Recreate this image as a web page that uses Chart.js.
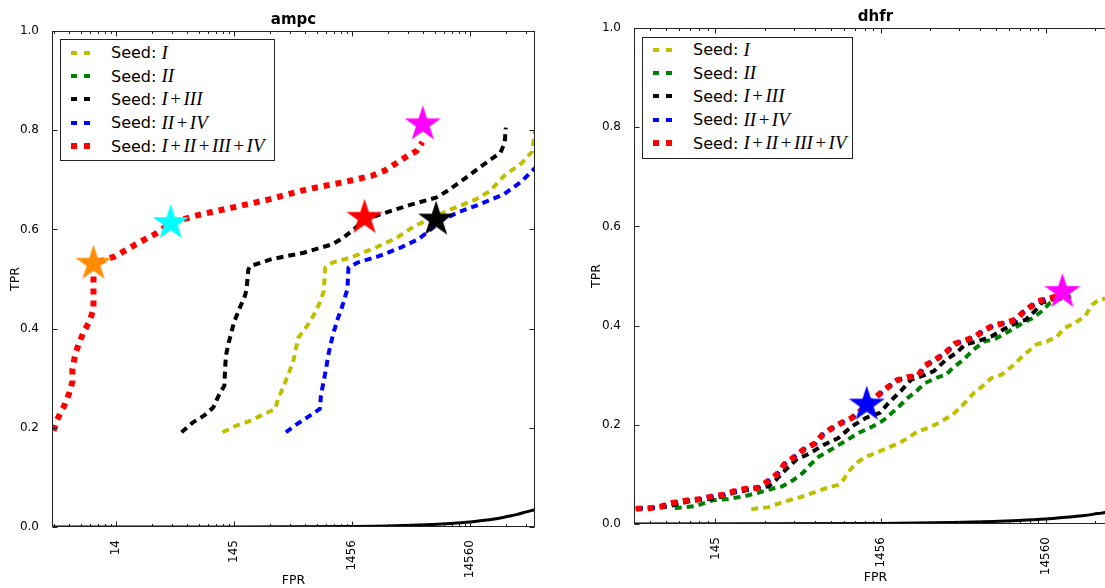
<!DOCTYPE html>
<html>
<head>
<meta charset="utf-8">
<script src="https://cdn.jsdelivr.net/npm/chart.js@4.4.0/dist/chart.umd.min.js"></script>
<style>
  html, body { margin: 0; padding: 0; background: #fff; overflow: hidden; }
  #wrap { position: relative; width: 1105px; height: 588px; overflow: hidden; }
  canvas { position: absolute; top: 0; }
  #ampcChart { left: 0; }
  #dhfrChart { left: 560px; }
  .legend { position: absolute; background: #fff; border: 1px solid #222; box-sizing: border-box;
            font-family: "DejaVu Sans", sans-serif; font-size: 16px; color: #000; }
  #ampcLegend { left: 60px; top: 39px; width: 215px; height: 122px; padding-top: 1px; }
  #dhfrLegend { left: 642px; top: 37px; width: 211px; height: 122px; padding-top: 0; }
  .row { display: flex; align-items: center; height: 23.4px; white-space: nowrap; }
  .sample { width: 40px; margin-left: 10px; display: flex; align-items: center; }
  .dash { display: inline-block; width: 6px; height: 4px; margin-right: 6.7px; }
  .dash.big { height: 6px; }
  .math { font-family: "Liberation Serif", serif; font-style: italic; font-size: 19px; }
  .op { font-style: normal; margin: 0 2.5px; }
</style>
</head>
<body>
<div id="wrap">
  <canvas id="ampcChart" width="560" height="588"></canvas>
  <canvas id="dhfrChart" width="600" height="588"></canvas>
  <div id="ampcLegend" class="legend"></div>
  <div id="dhfrLegend" class="legend"></div>
</div>
<script>
// axis ticks (x is log scaled)
const xTickValues = [14.56, 145.6, 1456, 14560];
const xTickLabels = ["14", "145", "1456", "14560"];
const yTickValues = [0, 0.2, 0.4, 0.6, 0.8, 1.0];
const seedLabels = ["I", "II", "I+III", "II+IV", "I+II+III+IV"];
const seedColors = ["#bfbf00", "#008000", "#000000", "#0000ff", "#ff0000"];

// ---- ampc ----
const ampcIx = [116.4, 150.7, 199, 263.6, 325, 343.6, 378.7, 414.6, 460.6, 486.6, 510.8, 608, 699.5, 777, 833, 850, 862, 991, 1406, 2290, 3482, 4932, 6520, 9910, 16140, 21380, 28250, 40000, 49000, 51700];
const ampcIy = [0.191, 0.204, 0.214, 0.228, 0.238, 0.258, 0.281, 0.305, 0.332, 0.359, 0.382, 0.406, 0.430, 0.453, 0.473, 0.499, 0.523, 0.533, 0.543, 0.563, 0.583, 0.607, 0.620, 0.640, 0.660, 0.677, 0.708, 0.734, 0.757, 0.800];
const ampcIIx = [];
const ampcIIy = [];
const ampcIIIIx = [52.2, 65.3, 80.4, 97.0, 107.8, 120.5, 122.2, 124.0, 131.2, 145.6, 161.6, 180.6, 185.6, 192.3, 199, 302.6, 567, 991, 1222, 1507, 1858, 2824, 4600, 7500, 9250, 12220, 17330, 26360, 28640, 29240];
const ampcIIIIy = [0.191, 0.211, 0.224, 0.241, 0.265, 0.285, 0.318, 0.345, 0.372, 0.413, 0.44, 0.467, 0.479, 0.519, 0.526, 0.540, 0.553, 0.570, 0.583, 0.600, 0.620, 0.634, 0.650, 0.664, 0.677, 0.697, 0.724, 0.755, 0.775, 0.805];
const ampcIIIVx = [400, 493, 608, 777, 793, 833, 875, 913, 958, 1027, 1102, 1206, 1292, 1329, 1358, 1615, 2457, 3731, 5291, 6520, 8630, 11400, 17330, 28250, 40000, 51700];
const ampcIIIVy = [0.191, 0.207, 0.221, 0.238, 0.265, 0.292, 0.318, 0.345, 0.369, 0.396, 0.420, 0.446, 0.470, 0.479, 0.523, 0.533, 0.546, 0.563, 0.580, 0.597, 0.620, 0.634, 0.650, 0.671, 0.697, 0.724];
const ampcAllx = [4.3, 4.6, 5.29, 5.8, 6.21, 6.21, 6.53, 7.0, 7.77, 8.74, 9.37, 9.37, 9.37, 14.06, 21.4, 32.5, 42.3, 75, 140.6, 282.5, 608, 1222, 2136, 2728, 3482, 4293, 5110, 5750];
const ampcAlly = [0.194, 0.216, 0.244, 0.268, 0.293, 0.318, 0.345, 0.369, 0.394, 0.416, 0.44, 0.467, 0.531, 0.545, 0.570, 0.593, 0.613, 0.630, 0.644, 0.66, 0.681, 0.695, 0.708, 0.718, 0.734, 0.748, 0.758, 0.776];
const ampcRandX = [4.17, 146, 1456, 4000, 7000, 10000, 14560, 20000, 25000, 30000, 36000, 43000, 51700];
const ampcRandY = [0, 0.0001, 0.001, 0.003, 0.005, 0.007, 0.010, 0.014, 0.017, 0.021, 0.025, 0.030, 0.035];
const ampcStarX = [9.37, 42.3, 5790, 1858, 7500];
const ampcStarY = [0.531, 0.613, 0.812, 0.6235, 0.620];
const ampcStarColors = ["#ff8c00", "#00ffff", "#ff00ff", "#ff0000", "#000000"];

// ---- dhfr ----
const dhfrIx = [239.9, 305.5, 370.7, 496.6, 663.3, 805, 866, 931, 1051, 1186, 1340, 1588, 1882, 2125, 2455, 2838, 3285, 3992, 4617, 5336, 6026, 6800, 7870, 9100, 10520, 12770, 14770, 17060, 18820, 21780, 25180, 27740, 30560, 33360, 40000];
const dhfrIy = [0.030, 0.034, 0.044, 0.056, 0.071, 0.079, 0.089, 0.106, 0.124, 0.136, 0.142, 0.153, 0.163, 0.173, 0.187, 0.194, 0.204, 0.221, 0.241, 0.264, 0.278, 0.294, 0.301, 0.318, 0.338, 0.362, 0.368, 0.378, 0.395, 0.405, 0.419, 0.442, 0.452, 0.454, 0.456];
const dhfrIIx = [82.6, 110.4, 140.7, 170.6, 217.8, 264.2, 320.6, 370.7, 428.8, 496.6, 547.2, 617, 730.4, 887.4, 1077, 1308, 1513, 1666, 1882, 2125, 2455, 2704, 3130, 3622, 3992, 4617, 5336, 6172, 7139, 8060, 9100, 10520, 12170, 13740, 15500, 17060, 20750];
const dhfrIIy = [0.032, 0.036, 0.048, 0.050, 0.056, 0.063, 0.071, 0.076, 0.088, 0.104, 0.120, 0.136, 0.150, 0.167, 0.184, 0.197, 0.209, 0.221, 0.237, 0.254, 0.271, 0.284, 0.294, 0.301, 0.315, 0.331, 0.352, 0.368, 0.373, 0.382, 0.392, 0.405, 0.415, 0.429, 0.446, 0.452, 0.459];
const dhfrIIIIx = [48, 71.4, 105.2, 147.6, 188.2, 251.8, 305.5, 336.5, 389, 450.6, 547, 663, 805, 977, 1186, 1442, 1626, 1928, 2230, 2576, 3052, 3622, 4190, 4730, 5600, 6800, 8060, 9550, 11050, 12470, 13740, 14770, 17060];
const dhfrIIIIy = [0.031, 0.034, 0.047, 0.052, 0.063, 0.071, 0.076, 0.088, 0.110, 0.130, 0.143, 0.160, 0.173, 0.197, 0.214, 0.224, 0.244, 0.268, 0.291, 0.298, 0.308, 0.331, 0.345, 0.362, 0.368, 0.378, 0.392, 0.405, 0.412, 0.429, 0.446, 0.449, 0.456];
const dhfrIIIVx = [48, 58.7, 67.9, 78.7, 95.5, 115.9, 140.7, 162.6, 188.2, 223, 264, 305.5, 345, 380, 440, 497, 588, 648, 730, 845, 977, 1186, 1373, 1588, 1836, 2125, 2455, 2704, 3130, 3622, 4090, 4730, 5470, 6170, 7140, 8260, 9550, 10790, 11880, 13090, 14770, 17060];
const dhfrIIIVy = [0.031, 0.032, 0.035, 0.042, 0.047, 0.050, 0.056, 0.059, 0.066, 0.071, 0.073, 0.087, 0.101, 0.120, 0.136, 0.150, 0.163, 0.180, 0.192, 0.204, 0.214, 0.237, 0.257, 0.274, 0.290, 0.296, 0.299, 0.319, 0.331, 0.346, 0.363, 0.370, 0.378, 0.391, 0.401, 0.405, 0.412, 0.429, 0.439, 0.449, 0.454, 0.459];
const dhfrAllx = [48, 58.7, 67.9, 78.7, 95.5, 115.9, 140.7, 162.6, 188.2, 223, 264, 305.5, 345, 380, 440, 497, 588, 648, 730, 845, 977, 1186, 1373, 1588, 1836, 2125, 2455, 2704, 3130, 3622, 4090, 4730, 5470, 6170, 7140, 8260, 9550, 10790, 11880, 13090, 14770, 17060];
const dhfrAlly = [0.031, 0.032, 0.035, 0.042, 0.047, 0.050, 0.056, 0.059, 0.066, 0.071, 0.073, 0.087, 0.101, 0.120, 0.136, 0.150, 0.163, 0.180, 0.192, 0.204, 0.214, 0.237, 0.257, 0.274, 0.290, 0.296, 0.299, 0.319, 0.331, 0.346, 0.363, 0.370, 0.378, 0.391, 0.401, 0.405, 0.412, 0.429, 0.439, 0.449, 0.454, 0.459];
const dhfrRandX = [46.8, 1456, 4000, 7000, 10000, 14560, 20000, 25000, 30000, 35000, 39300];
const dhfrRandY = [0, 0.001, 0.003, 0.005, 0.007, 0.010, 0.014, 0.017, 0.021, 0.024, 0.027];
const dhfrStarX = [1200, 18370];
const dhfrStarY = [0.241, 0.468];
const dhfrStarColors = ["#0000ff", "#ff00ff"];

Chart.defaults.font.family = "'DejaVu Sans', sans-serif";
Chart.defaults.color = "#000";

function pts(xs, ys) {
  return xs.map((x, i) => ({ x: x, y: ys[i] }));
}

function starImage(color, r) {
  const c = document.createElement("canvas");
  const size = Math.ceil(r * 2 + 2);
  c.width = size; c.height = size;
  const ctx = c.getContext("2d");
  ctx.translate(size / 2, size / 2);
  ctx.beginPath();
  for (let i = 0; i < 10; i++) {
    const rad = i % 2 === 0 ? r : r * 0.382;
    const a = -Math.PI / 2 + i * Math.PI / 5;
    ctx.lineTo(rad * Math.cos(a), rad * Math.sin(a));
  }
  ctx.closePath();
  ctx.fillStyle = color;
  ctx.fill();
  return c;
}

// matplotlib-like frame with inward ticks on all four sides
const frameTicks = {
  id: "frameTicks",
  afterDatasetsDraw(chart) {
    const { ctx, chartArea: a, scales: { x, y } } = chart;
    const L = Math.round(a.left) + 0.5, R = Math.round(a.right) - 0.5;
    const T = Math.round(a.top) + 0.5, B = Math.round(a.bottom) - 0.5;
    ctx.save();
    ctx.strokeStyle = "#222";
    ctx.lineWidth = 1;
    ctx.beginPath();
    x.ticks.forEach((t) => {
      const px = Math.round(x.getPixelForValue(t.value)) + 0.5;
      if (px < L || px > R) return;
      const len = xTickValues.includes(t.value) ? 5 : 2.5;
      ctx.moveTo(px, B); ctx.lineTo(px, B - len);
      ctx.moveTo(px, T); ctx.lineTo(px, T + len);
    });
    y.ticks.forEach((t) => {
      const py = Math.round(y.getPixelForValue(t.value)) + 0.5;
      ctx.moveTo(L, py); ctx.lineTo(L + 5, py);
      ctx.moveTo(R, py); ctx.lineTo(R - 5, py);
    });
    ctx.stroke();
    ctx.strokeRect(L, T, R - L, B - T);
    ctx.restore();
  }
};

// major ticks from xTickValues, minor ticks at 2..9 of each decade
function logTicks(min, max) {
  const out = xTickValues.filter((v) => v >= min && v <= max);
  for (let e = -2; e <= 4; e++) {
    for (let k = 2; k <= 9; k++) {
      const v = k * 1.456 * Math.pow(10, e);
      if (v >= min && v <= max) out.push(v);
    }
  }
  return out.sort((a, b) => a - b);
}

function seedDatasets(sets) {
  const orders = [5, 4, 3, 2, 1];
  return sets.map((s, i) => ({
    label: "Seed: " + seedLabels[i],
    data: pts(s[0], s[1]),
    borderColor: seedColors[i],
    borderWidth: i === 4 ? 6 : 4,
    borderDash: i === 4 ? [6, 6] : [7, 5],
    borderJoinStyle: "round",
    pointRadius: 0,
    fill: false,
    tension: 0,
    order: orders[i]
  }));
}

function starDatasets(xs, ys, colors) {
  return xs.map((x, i) => ({
    label: "star" + i,
    data: [{ x: x, y: ys[i] }],
    showLine: false,
    pointStyle: starImage(colors[i], 19),
    pointRadius: 19,
    order: 0
  }));
}

function makeChart(id, cfg) {
  return new Chart(document.getElementById(id), {
    type: "line",
    data: {
      datasets: [
        ...starDatasets(cfg.starX, cfg.starY, cfg.starColors),
        ...seedDatasets(cfg.seeds),
        { label: "random", data: pts(cfg.randX, cfg.randY), borderColor: "#000", borderWidth: 3,
          pointRadius: 0, tension: 0.3, fill: false, order: 6 }
      ]
    },
    options: {
      responsive: false,
      animation: false,
      layout: { padding: { left: 0, right: cfg.padRight, top: 0, bottom: 0 } },
      plugins: {
        legend: { display: false },
        tooltip: { enabled: false },
        title: {
          display: true, text: cfg.title, fullSize: false, color: "#000",
          font: { size: 15, weight: "bold" }, padding: { top: cfg.titleTop, bottom: 2 }
        }
      },
      scales: {
        x: {
          type: "logarithmic", min: cfg.xMin, max: cfg.xMax,
          grid: { display: false }, border: { display: false },
          afterBuildTicks: (s) => { s.ticks = logTicks(cfg.xMin, cfg.xMax).map((v) => ({ value: v })); },
          ticks: {
            autoSkip: false, minRotation: 90, maxRotation: 90, padding: 5,
            font: { size: 12 },
            callback: (v) => { const i = xTickValues.indexOf(v); return i >= 0 ? xTickLabels[i] : ""; }
          },
          title: { display: true, text: "FPR", font: { size: 12.5 }, padding: { top: 0, bottom: cfg.xTitlePad } },
          afterFit: (s) => { s.height = cfg.xAxisH; }
        },
        y: {
          min: 0, max: 1,
          grid: { display: false }, border: { display: false },
          afterBuildTicks: (s) => { s.ticks = yTickValues.map((v) => ({ value: v })); },
          ticks: { padding: 5, font: { size: 12 }, callback: (v) => v.toFixed(1) },
          title: { display: true, text: "TPR", font: { size: 12.5 }, padding: { top: cfg.yTitlePad, bottom: 0 } },
          afterFit: (s) => { s.width = cfg.yAxisW; }
        }
      }
    },
    plugins: [frameTicks]
  });
}

function buildLegend(id) {
  const el = document.getElementById(id);
  el.innerHTML = seedLabels.map((lab, i) => {
    const cls = i === 4 ? "dash big" : "dash";
    const math = lab.split("+").join('<span class="op">+</span>');
    return `<div class="row"><span class="sample"><span class="${cls}" style="background:${seedColors[i]}"></span><span class="${cls}" style="background:${seedColors[i]}"></span></span>Seed:&nbsp;<span class="math">${math}</span></div>`;
  }).join("");
}

makeChart("ampcChart", {
  title: "ampc", titleTop: 11, padRight: 25, yAxisW: 52, xAxisH: 61, yTitlePad: 8.5, xTitlePad: 0,
  xMin: 4.17, xMax: 51700,
  seeds: [[ampcIx, ampcIy], [ampcIIx, ampcIIy], [ampcIIIIx, ampcIIIIy], [ampcIIIVx, ampcIIIVy], [ampcAllx, ampcAlly]],
  randX: ampcRandX, randY: ampcRandY,
  starX: ampcStarX, starY: ampcStarY, starColors: ampcStarColors
});

makeChart("dhfrChart", {
  title: "dhfr", titleTop: 8, padRight: 43, yAxisW: 74, xAxisH: 64, yTitlePad: 29.5, xTitlePad: 2.5,
  xMin: 46.8, xMax: 39300,
  seeds: [[dhfrIx, dhfrIy], [dhfrIIx, dhfrIIy], [dhfrIIIIx, dhfrIIIIy], [dhfrIIIVx, dhfrIIIVy], [dhfrAllx, dhfrAlly]],
  randX: dhfrRandX, randY: dhfrRandY,
  starX: dhfrStarX, starY: dhfrStarY, starColors: dhfrStarColors
});

buildLegend("ampcLegend");
buildLegend("dhfrLegend");
</script>
</body>
</html>
